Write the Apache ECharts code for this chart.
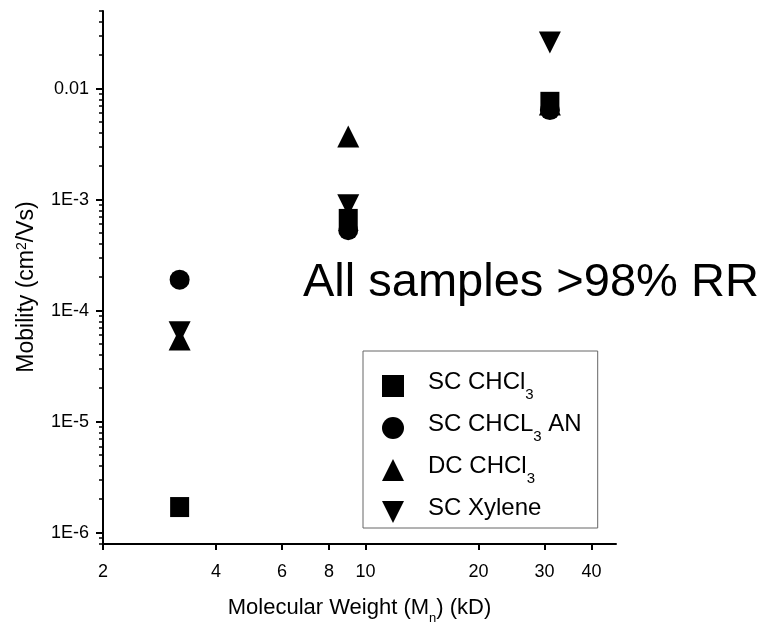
<!DOCTYPE html>
<html>
<head>
<meta charset="utf-8">
<script src="https://cdn.jsdelivr.net/npm/echarts@6/dist/echarts.min.js"></script>
<style>
  html, body { margin: 0; padding: 0; background: #fff; }
  #chart { width: 771px; height: 625px; }
</style>
</head>
<body>
<div id="chart"></div>
<script>
// molecular weight (kD) of the three batches
const molWeight = [3.2, 9, 31];
// mobility values (cm2/Vs) per sample series
const scChcl3 = [1.7e-6, 6.7e-4, 7.6e-3];
const scChcl3An = [1.9e-4, 5.3e-4, 6.4e-3];
const dcChcl3 = [5.5e-5, 3.7e-3, 7.2e-3];
const scXylene = [6.4e-5, 8.9e-4, 0.026];

const seriesNames = ['SC CHCl3', 'SC CHCL3 AN', 'DC CHCl3', 'SC Xylene'];
const legendLabels = ['{h|SC CHCl}{s|3}', '{h|SC CHCL}{s|3}{a| AN}', '{h|DC CHCl}{s|3}', '{h|SC Xylene}{s| }'];

const xTicks = [2, 4, 6, 8, 10, 20, 30, 40];
const yTicks = [1e-6, 1e-5, 1e-4, 1e-3, 1e-2];
const yTickLabels = ['1E-6', '1E-5', '1E-4', '1E-3', '0.01'];
const yMinorTicks = [];
for (let e = -7; e <= -2; e++) {
  for (let m = 2; m <= 9; m++) yMinorTicks.push(m * Math.pow(10, e));
}

const FONT = 'Liberation Sans, Arial, sans-serif';
const yMin = 7.9e-7, yMax = 0.05;
const black = { color: '#000', opacity: 1 };

const toPoints = (vals) => molWeight.map((x, i) => [x, vals[i]]);

const chart = echarts.init(document.getElementById('chart'));

chart.setOption({
  animation: false,
  backgroundColor: '#fff',
  textStyle: { fontFamily: FONT, color: '#000' },
  grid: { left: 103, top: 11, right: 155, bottom: 81, containLabel: false, outerBoundsMode: 'none' },
  legend: {
    orient: 'vertical',
    left: 363,
    top: 351,
    padding: [19, 16, 0, 19],
    itemGap: 10,
    itemWidth: 22,
    itemHeight: 22,
    borderColor: '#666',
    borderWidth: 1,
    data: [
      { name: seriesNames[0], icon: 'rect' },
      { name: seriesNames[1], icon: 'circle' },
      { name: seriesNames[2], icon: 'triangle' },
      { name: seriesNames[3], icon: 'path://M0,0L20,0L10,20Z' },
    ],
    itemStyle: { opacity: 1 },
    formatter: (name) => legendLabels[seriesNames.indexOf(name)],
    textStyle: {
      rich: {
        h: { fontSize: 24, fontFamily: FONT, color: '#000', verticalAlign: 'top', padding: [0, 0, 0, 19] },
        a: { fontSize: 24, fontFamily: FONT, color: '#000', verticalAlign: 'top' },
        s: { fontSize: 15, fontFamily: FONT, color: '#000', verticalAlign: 'top', padding: [17, 0, 0, 0] },
      },
    },
  },
  xAxis: {
    type: 'log',
    min: 2,
    max: 46.5,
    name: '{a|Molecular Weight (M}{b|n}{a|) (kD)}',
    nameLocation: 'middle',
    nameGap: 53,
    nameTextStyle: {
      rich: {
        a: { fontSize: 22, fontFamily: FONT, color: '#000', verticalAlign: 'top' },
        b: { fontSize: 13, fontFamily: FONT, color: '#000', verticalAlign: 'top', padding: [15, 0, 0, 0] },
      },
    },
    axisLine: { lineStyle: { color: '#000', width: 2 } },
    axisTick: { customValues: xTicks, length: 6, lineStyle: { color: '#000', width: 2 } },
    axisLabel: { customValues: xTicks, fontSize: 18, color: '#000', margin: 19 },
    splitLine: { show: false },
  },
  yAxis: [
    {
      type: 'log',
      min: yMin,
      max: yMax,
      name: '{a|Mobility (cm}{p|2}{a|/Vs)}',
      nameLocation: 'middle',
      nameGap: 65,
      nameTextStyle: {
        padding: [0, 19, 0, 0],
        rich: {
          a: { fontSize: 23, fontFamily: FONT, color: '#000' },
          p: { fontSize: 14, fontFamily: FONT, color: '#000', verticalAlign: 'top' },
        },
      },
      axisLine: { lineStyle: { color: '#000', width: 2 } },
      axisTick: { customValues: yTicks, length: 7, lineStyle: { color: '#000', width: 2 } },
      axisLabel: {
        customValues: yTicks,
        fontSize: 18,
        color: '#000',
        margin: 14,
        formatter: (v) => {
          const e = Math.round(Math.log10(v));
          return yTickLabels[yTicks.findIndex((t) => Math.round(Math.log10(t)) === e)];
        },
      },
      splitLine: { show: false },
    },
    {
      // minor ticks only
      type: 'log',
      min: yMin,
      max: yMax,
      position: 'left',
      axisLine: { show: false },
      axisTick: { customValues: yMinorTicks, length: 4, lineStyle: { color: '#000', width: 1.5 } },
      axisLabel: { show: false },
      splitLine: { show: false },
    },
  ],
  series: [
    { name: seriesNames[0], type: 'scatter', symbol: 'rect', symbolSize: [19, 20], itemStyle: black, data: toPoints(scChcl3) },
    { name: seriesNames[1], type: 'scatter', symbol: 'circle', symbolSize: 20, itemStyle: black, data: toPoints(scChcl3An) },
    { name: seriesNames[2], type: 'scatter', symbol: 'triangle', symbolSize: 22, itemStyle: black, data: toPoints(dcChcl3) },
    { name: seriesNames[3], type: 'scatter', symbol: 'triangle', symbolRotate: 180, symbolSize: 22, itemStyle: black, data: toPoints(scXylene) },
  ],
  graphic: [
    {
      type: 'text',
      left: 303,
      top: 260,
      style: { text: 'All samples >98% RR', font: '47px ' + FONT, fill: '#000' },
    },
  ],
});

window.addEventListener('resize', () => chart.resize());
</script>
</body>
</html>
